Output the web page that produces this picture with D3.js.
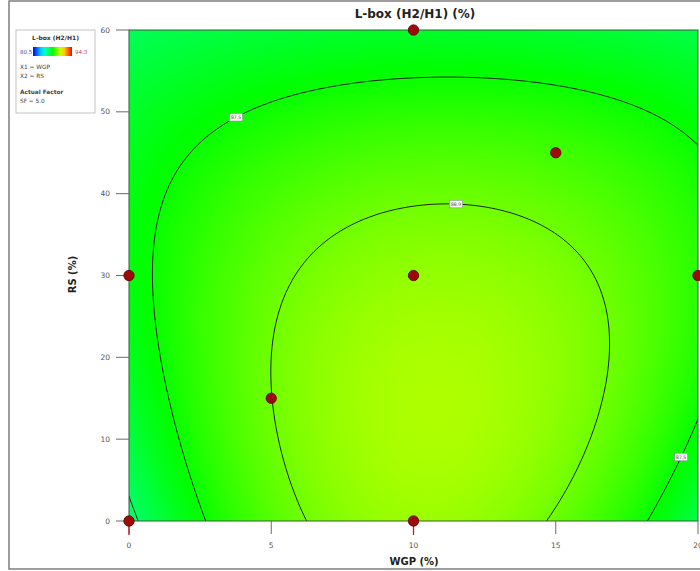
<!DOCTYPE html>
<html>
<head>
<meta charset="utf-8">
<script src="https://cdn.jsdelivr.net/npm/d3@7"></script>
<style>
  html, body { margin: 0; padding: 0; background: #fff; }
  svg { display: block; font-family: "DejaVu Sans", "Liberation Sans", sans-serif; }
</style>
</head>
<body>
<svg id="chart" width="700" height="571"></svg>
<script>
// Design runs: WGP (%) and RS (%)
const runWGP = [0, 0, 10, 10, 10, 5, 15, 20];
const runRS  = [0, 30, 0, 30, 60, 15, 45, 30];

// Fitted L-box surface (SF held at 5.0):
// f = base + scale * ( H(RS/10) - A(RS) * (WGP - C(RS))^2 )
const surfH = [17.6, 11.8, -4.2];        // ridge height, in RS/10
const surfA = [1, -0.016, 0.00003];      // WGP curvature, in RS
const surfC = [10.42, 0.03, -0.0003];    // ridge centre (WGP), in RS
const surfBase = 88.9;
const surfScale = 1.4 / 42.4;

const contourLevels = [86.1, 87.5, 88.9];
const legendRange = [80.5, 94.3];
const xTicks = [0, 5, 10, 15, 20];
const yTicks = [0, 10, 20, 30, 40, 50, 60];

// where each contour gets its value tag (level, WGP, RS)
const tagLevels = [87.5, 88.9, 87.5];
const tagWGP = [3.65, 11.5, 19.1];
const tagRS = [50.1, 39.5, 8.3];

const poly = (c, v) => c[0] + c[1] * v + c[2] * v * v;
function lbox(wgp, rs) {
  const d = wgp - poly(surfC, rs);
  return surfBase + surfScale * (poly(surfH, rs / 10) - poly(surfA, rs) * d * d);
}

const svg = d3.select("#chart");
const x = d3.scaleLinear([0, 20], [129, 698]);
const y = d3.scaleLinear([0, 60], [521, 30]);
const hue = d3.scaleLinear(legendRange, [240, 0]).clamp(true);
const colorOf = v => d3.hsl(hue(v), 1, 0.5);

// outer frame
svg.append("rect").attr("x", 9).attr("y", 1).attr("width", 720).attr("height", 568)
  .attr("fill", "#fff").attr("stroke", "#6a6a6a").attr("stroke-width", 1.3);

// colour field
const pw = Math.round(x(20) - x(0)), ph = Math.round(y(0) - y(60));
const cv = document.createElement("canvas");
cv.width = pw; cv.height = ph;
const ctx = cv.getContext("2d");
const img = ctx.createImageData(pw, ph);
for (let j = 0; j < ph; j++) {
  const rs = y.invert(y(60) + j + 0.5);
  for (let i = 0; i < pw; i++) {
    const wgp = x.invert(x(0) + i + 0.5);
    const c = d3.rgb(colorOf(lbox(wgp, rs)));
    const k = (j * pw + i) * 4;
    img.data[k] = c.r; img.data[k + 1] = c.g; img.data[k + 2] = c.b; img.data[k + 3] = 255;
  }
}
ctx.putImageData(img, 0, 0);
svg.append("image").attr("x", x(0)).attr("y", y(60)).attr("width", pw).attr("height", ph)
  .attr("preserveAspectRatio", "none").attr("href", cv.toDataURL());

// contour lines
svg.append("clipPath").attr("id", "plotclip").append("rect")
  .attr("x", x(0)).attr("y", y(60)).attr("width", pw).attr("height", ph);
const q = 2, gx0 = x(0) - q, gy0 = y(60) - q;
const gn = Math.ceil((pw + 2 * q) / q) + 1, gm = Math.ceil((ph + 2 * q) / q) + 1;
const grid = new Float64Array(gn * gm);
for (let j = 0; j < gm; j++)
  for (let i = 0; i < gn; i++)
    grid[j * gn + i] = lbox(x.invert(gx0 + i * q), y.invert(gy0 + j * q));
const toPx = ([a, b]) => [gx0 + a * q, gy0 + b * q];
const contours = d3.contours().size([gn, gm]).thresholds(contourLevels)(grid);
const path = d3.geoPath(d3.geoTransform({
  point(a, b) { const p = toPx([a, b]); this.stream.point(p[0], p[1]); }
}));
svg.append("g").attr("clip-path", "url(#plotclip)")
  .selectAll("path").data(contours).join("path")
  .attr("d", path).attr("fill", "none").attr("stroke", "#1a261a").attr("stroke-width", 1);

// plot border
svg.append("rect").attr("x", x(0)).attr("y", y(60)).attr("width", pw).attr("height", ph)
  .attr("fill", "none").attr("stroke", "#3b5b3b").attr("stroke-width", 1);

// contour value tags, snapped onto their line
tagLevels.forEach((lv, k) => {
  const c = contours.find(d => d.value === lv);
  const tx = x(tagWGP[k]), ty = y(tagRS[k]);
  let best = [tx, ty], bd = Infinity;
  c.coordinates.forEach(poly2 => poly2.forEach(ring => ring.forEach(pt => {
    const p = toPx(pt);
    if (p[0] < x(0) || p[0] > x(20) || p[1] < y(60) || p[1] > y(0)) return;
    const d = (p[0] - tx) ** 2 + (p[1] - ty) ** 2;
    if (d < bd) { bd = d; best = p; }
  })));
  const g = svg.append("g").attr("transform", `translate(${best[0]},${best[1]})`);
  g.append("rect").attr("x", -6.5).attr("y", -3.8).attr("width", 13).attr("height", 7.6)
    .attr("fill", "#f4f8f4").attr("stroke", "#8a8a8a").attr("stroke-width", 0.6);
  g.append("text").attr("text-anchor", "middle").attr("y", 1.8)
    .attr("font-size", 4.6).attr("fill", "#555").text(d3.format(".1f")(lv));
});

// axes ticks and labels
const tickCol = "#6a6a6a";
const gx = svg.append("g");
xTicks.forEach(v => {
  gx.append("line").attr("x1", x(v)).attr("x2", x(v)).attr("y1", y(0)).attr("y2", y(0) + 13)
    .attr("stroke", tickCol).attr("stroke-width", 1);
  gx.append("text").attr("x", x(v)).attr("y", 548).attr("text-anchor", "middle")
    .attr("font-size", 7.5).attr("fill", "#555").text(v);
});
const gy = svg.append("g");
yTicks.forEach(v => {
  gy.append("line").attr("x1", x(0) - 13).attr("x2", x(0)).attr("y1", y(v)).attr("y2", y(v))
    .attr("stroke", tickCol).attr("stroke-width", 1);
  gy.append("text").attr("x", 110).attr("y", y(v) + 2.6).attr("text-anchor", "end")
    .attr("font-size", 7.5).attr("fill", "#555").text(v);
});

// design points, with drop marks for runs on the WGP axis
runWGP.forEach((w, k) => {
  if (runRS[k] === 0)
    svg.append("line").attr("x1", x(w)).attr("x2", x(w)).attr("y1", y(0)).attr("y2", y(0) + 14)
      .attr("stroke", "#c81818").attr("stroke-width", 1.3);
});
svg.append("g").selectAll("circle").data(runWGP).join("circle")
  .attr("cx", d => x(d)).attr("cy", (d, k) => y(runRS[k])).attr("r", 5.2)
  .attr("fill", "#9c0a0a").attr("stroke", "#5e0000").attr("stroke-width", 0.8);

// titles
svg.append("text").attr("x", 415).attr("y", 18).attr("text-anchor", "middle")
  .attr("font-size", 12).attr("font-weight", "bold").attr("fill", "#222").text("L-box (H2/H1) (%)");
svg.append("text").attr("x", 414).attr("y", 565).attr("text-anchor", "middle")
  .attr("font-size", 10).attr("font-weight", "bold").attr("fill", "#222").text("WGP (%)");
svg.append("text").attr("transform", `translate(76,${y(30) - 1}) rotate(-90)`).attr("text-anchor", "middle")
  .attr("font-size", 10).attr("font-weight", "bold").attr("fill", "#222").text("RS (%)");

// legend
const lg = svg.append("g");
lg.append("rect").attr("x", 16).attr("y", 30).attr("width", 79).attr("height", 83)
  .attr("fill", "#fff").attr("stroke", "#b5b5b5").attr("stroke-width", 0.8);
lg.append("text").attr("x", 55.5).attr("y", 40).attr("text-anchor", "middle")
  .attr("font-size", 6).attr("font-weight", "bold").attr("fill", "#333").text("L-box (H2/H1)");
const grad = svg.append("defs").append("linearGradient").attr("id", "lgGrad");
d3.range(0, 1.0001, 0.1).forEach(t => {
  const v = legendRange[0] + t * (legendRange[1] - legendRange[0]);
  grad.append("stop").attr("offset", t).attr("stop-color", colorOf(v));
});
lg.append("rect").attr("x", 33).attr("y", 47).attr("width", 39).attr("height", 9).attr("fill", "url(#lgGrad)");
lg.append("text").attr("x", 20).attr("y", 53.5).attr("font-size", 5.5).attr("fill", "#4a4aa8").text(legendRange[0]);
lg.append("text").attr("x", 75).attr("y", 53.5).attr("font-size", 5.5).attr("fill", "#c04060").text(legendRange[1]);
[["X1 = WGP", 69, false], ["X2 = RS", 78, false], ["Actual Factor", 94, true], ["SF = 5.0", 103, false]]
  .forEach(([s, yy, b]) => lg.append("text").attr("x", 20).attr("y", yy).attr("font-size", 5.8)
    .attr("font-weight", b ? "bold" : "normal").attr("fill", "#444").text(s));
</script>
</body>
</html>
